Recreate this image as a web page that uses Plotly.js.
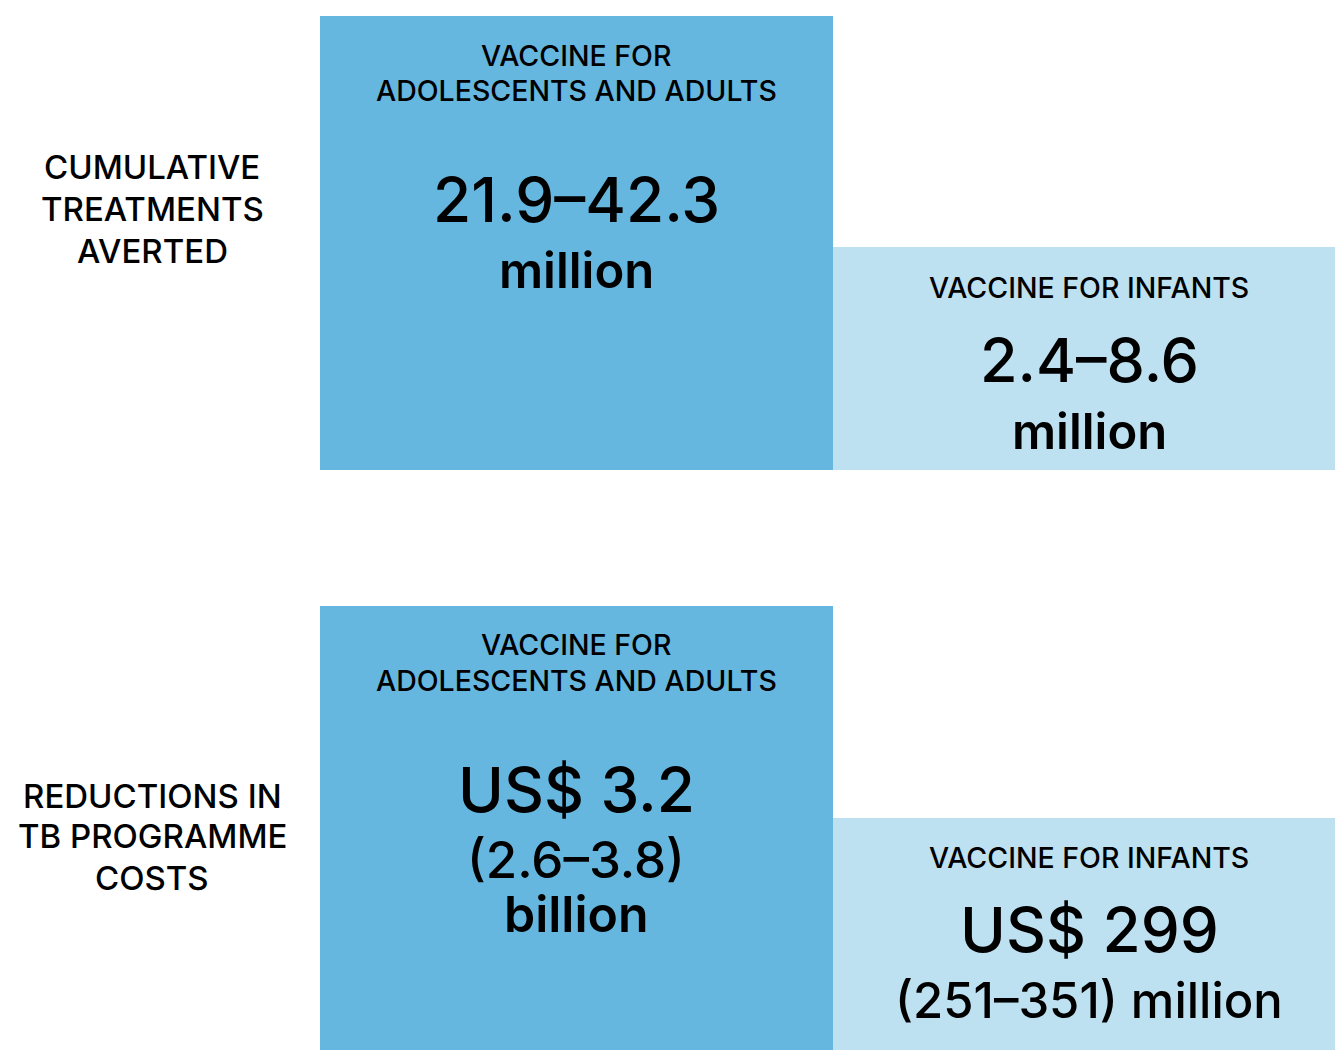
<!DOCTYPE html>
<html>
<head>
<meta charset="utf-8">
<script src="https://cdn.plot.ly/plotly-3.0.1.min.js"></script>
<style>html,body{margin:0;padding:0;background:#fff;}#chart{width:1335px;height:1050px;}</style>
</head>
<body>
<div id="chart"></div>
<script>
// ---- data ----
const rowLabels = [
  ["CUMULATIVE", "TREATMENTS", "AVERTED"],
  ["REDUCTIONS IN", "TB PROGRAMME", "COSTS"]
];
const groupLabels = {
  adults: ["VACCINE FOR", "ADOLESCENTS AND ADULTS"],
  infants: ["VACCINE FOR INFANTS"]
};
const adultsValues = [
  ["21.9–42.3", "million"],
  ["US$ 3.2", "(2.6–3.8)", "billion"]
];
const infantsValues = [
  ["2.4–8.6", "million"],
  ["US$ 299", "(251–351) million"]
];

// ---- layout geometry (pixel-like coordinates) ----
const DARK = "#65B7E0", LIGHT = "#BEE1F1";
const boxes = [
  {x0: 320, x1: 833, top: 16,  bottom: 470, color: DARK},
  {x0: 833, x1: 1335, top: 247, bottom: 470, color: LIGHT},
  {x0: 320, x1: 833, top: 606, bottom: 1050, color: DARK},
  {x0: 833, x1: 1335, top: 818, bottom: 1050, color: LIGHT}
];

const traces = boxes.map(b => ({
  type: "bar",
  x: [(b.x0 + b.x1) / 2],
  width: [b.x1 - b.x0],
  base: [b.bottom],
  y: [b.top - b.bottom],
  marker: {color: b.color, line: {width: 0}},
  hoverinfo: "skip",
  showlegend: false
}));

const FONT = "Inter, 'Liberation Sans', sans-serif";
const ann = [];
function add(text, x, y, size, weight, h) {
  const a = {text: text, x: x, y: y, xref: "x", yref: "y", showarrow: false,
    xanchor: "center", yanchor: "middle", borderpad: 0,
    font: {family: FONT, size: size, color: "#000", weight: weight || 500}};
  if (h) { a.height = h; a.valign = "middle"; }
  ann.push(a);
}

// row labels
const rowLabelY = [[167, 209, 251], [796, 836, 878]];
rowLabels.forEach((lines, r) => lines.forEach((t, i) => add(t, 152, rowLabelY[r][i], 33, 500, 40)));

// adults boxes
const adultsLabelY = [[55, 90], [644, 680]];
const adultsValY = [[199, 270], [789, 859, 914]];
const adultsValSize = [[62, 49], [62, 51, 50]];
const adultsValWeight = [[500, 600], [500, 500, 600]];
const adultsValH = [[null, null], [null, 50, 50]];
[0, 1].forEach(r => {
  groupLabels.adults.forEach((t, i) => add(t, 576, adultsLabelY[r][i], 28.5, 500, 34));
  adultsValues[r].forEach((t, i) => add(t, 576, adultsValY[r][i], adultsValSize[r][i], adultsValWeight[r][i], adultsValH[r][i]));
});

// infants boxes
const infantsLabelY = [287, 857];
const infantsValY = [[360, 431], [929, 1000]];
const infantsValSize = [[61, 49], [62, 49]];
const infantsValWeight = [[500, 600], [500, 500]];
[0, 1].forEach(r => {
  groupLabels.infants.forEach(t => add(t, 1089, infantsLabelY[r], 28.5, 500));
  infantsValues[r].forEach((t, i) => add(t, 1089, infantsValY[r][i], infantsValSize[r][i], infantsValWeight[r][i]));
});

const layout = {
  width: 1335, height: 1050,
  margin: {l: 0, r: 0, t: 0, b: 0, pad: 0},
  paper_bgcolor: "#fff", plot_bgcolor: "#fff",
  barmode: "overlay",
  xaxis: {range: [0, 1335], visible: false, fixedrange: true},
  yaxis: {range: [1050, 0], visible: false, fixedrange: true},
  annotations: ann,
  showlegend: false
};

Plotly.newPlot("chart", traces, layout, {displayModeBar: false, staticPlot: true});
</script>
</body>
</html>
